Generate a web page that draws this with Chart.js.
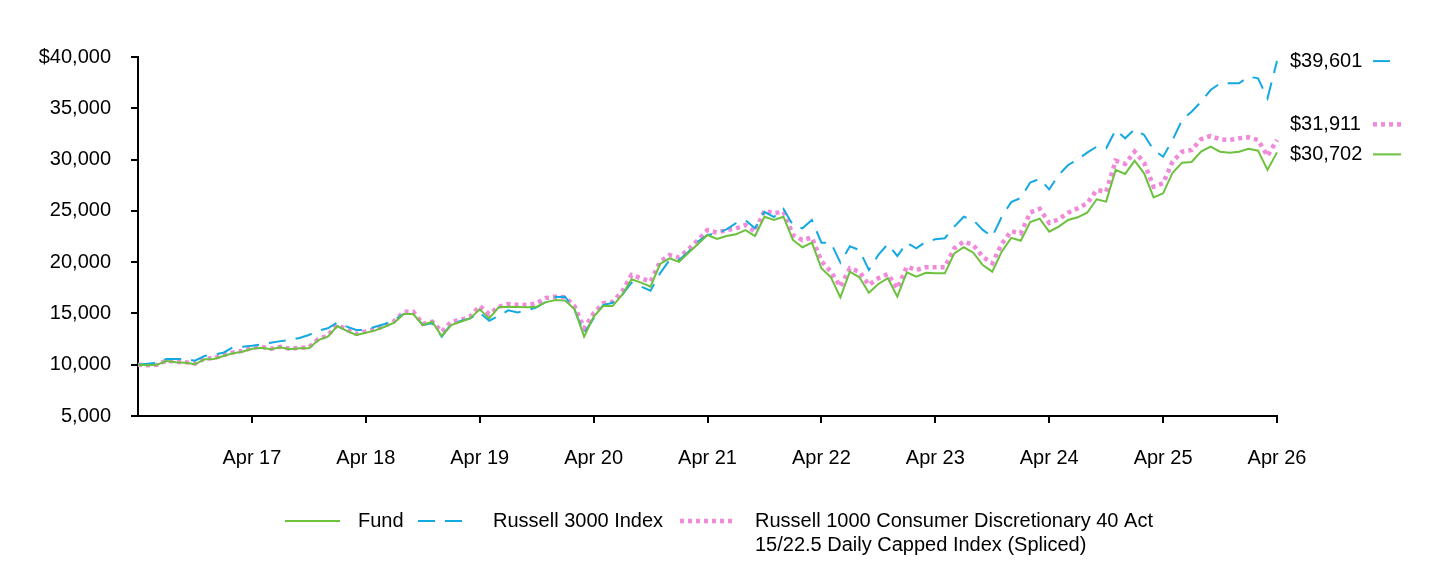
<!DOCTYPE html>
<html>
<head>
<meta charset="utf-8">
<script src="https://cdn.jsdelivr.net/npm/chart.js@4.4.1/dist/chart.umd.min.js"></script>
<style>
  html, body { margin: 0; padding: 0; background: #fff; }
  canvas { display: block; }
</style>
</head>
<body>
<canvas id="growthChart" width="1440" height="564"></canvas>
<script>
// ── Data (monthly, Apr 16 → Apr 26) ─────────────────────────
const MONTHS = ['Apr','May','Jun','Jul','Aug','Sep','Oct','Nov','Dec','Jan','Feb','Mar'];
const START_YEAR = 16;
const N_POINTS = 121;

const fundValues = [
  10000, 9950, 10000, 10360, 10250, 10200, 10040, 10530, 10560, 10850, 11110, 11270,
  11550, 11650, 11500, 11700, 11500, 11600, 11600, 12400, 12730, 13770, 13290, 12900,
  13120, 13350, 13700, 14100, 14940, 14940, 13870, 14190, 12800, 13870, 14190, 14520,
  15400, 14520, 15600, 15650, 15620, 15600, 15650, 16100, 16300, 16250, 15400, 12730,
  14680, 15720, 15720, 16800, 18330, 18000, 17610, 19820, 20370, 20040, 20920, 21770,
  22650, 22260, 22550, 22710, 23130, 22550, 24430, 24110, 24430, 22160, 21450, 21900,
  19400, 18520, 16570, 19070, 18520, 17020, 17870, 18430, 16640, 19010, 18580, 18970,
  18910, 18910, 20860, 21450, 20920, 19720, 19070, 21020, 22370, 22090, 23910, 24240,
  22970, 23460, 24110, 24370, 24820, 26130, 25900, 28990, 28600, 29890, 28660, 26320,
  26710, 28720, 29700, 29760, 30770, 31260, 30770, 30670, 30770, 31060, 30870, 28990,
  30702
];

const russell3000Values = [
  10000, 10100, 10200, 10560, 10560, 10560, 10390, 10850, 11000, 11170, 11700, 11760,
  11850, 11990, 12150, 12300, 12410, 12600, 12900, 13320, 13550, 14100, 13710, 13380,
  13380, 13700, 13970, 14360, 14940, 14940, 13870, 14040, 12730, 13970, 14260, 14520,
  15070, 14290, 14750, 15300, 15100, 15300, 15600, 16150, 16600, 16630, 15330, 13060,
  14520, 15820, 16040, 16800, 18000, 17610, 17220, 18910, 20210, 20200, 21020, 22000,
  22650, 22810, 23200, 23800, 24100, 23300, 24900, 24400, 25200, 23620, 23300, 24110,
  21900, 21900, 19950, 21550, 21180, 19230, 20700, 21770, 20600, 21900, 21350, 22000,
  22230, 22330, 23460, 24430, 24110, 23140, 22480, 24430, 25850, 26260, 27760, 28120,
  27100, 28500, 29470, 30020, 30670, 31260, 31100, 32880, 32070, 32950, 32400, 30930,
  30280, 31910, 33860, 34670, 35640, 36780, 37430, 37430, 37430, 38080, 37920, 35970,
  39601
];

const consDiscValues = [
  10000, 9950, 10000, 10400, 10300, 10250, 10100, 10600, 10650, 10950, 11200, 11350,
  11650, 11750, 11550, 11750, 11550, 11650, 11700, 12500, 12850, 13900, 13400, 13000,
  13250, 13450, 13800, 14250, 15160, 15160, 13970, 14190, 13220, 14190, 14360, 14680,
  15720, 14940, 15650, 15920, 15850, 15820, 15990, 16500, 16630, 16570, 15700, 13550,
  15010, 15990, 16140, 17130, 18750, 18430, 18100, 20040, 20700, 20470, 21250, 22160,
  23130, 22880, 23130, 23290, 23620, 22970, 25020, 24760, 24920, 22650, 22160, 22400,
  20100, 19070, 17610, 19400, 19070, 17770, 18430, 18840, 17440, 19560, 19230, 19500,
  19500, 19500, 21350, 22000, 21670, 20530, 19890, 21770, 23020, 22810, 24840, 25200,
  23820, 24170, 24820, 25250, 25730, 27030, 26870, 29890, 29570, 30770, 29700, 27360,
  27690, 29800, 30770, 30930, 31980, 32300, 31980, 31910, 32070, 32170, 31910, 30350,
  31911
];

const seriesNames = [
  ['Fund'],
  ['Russell 3000 Index'],
  ['Russell 1000 Consumer Discretionary 40 Act', '15/22.5 Daily Capped Index (Spliced)']
];
const endLabels = ['$30,702', '$39,601', '$31,911'];

const yTicks = [5000, 10000, 15000, 20000, 25000, 30000, 35000, 40000];

// Month labels: "Apr 16", "May 16", ...
const labels = [];
for (let i = 0; i < N_POINTS; i++) {
  const yr = START_YEAR + Math.floor((i + 3) / 12);
  labels.push(MONTHS[i % 12] + ' ' + yr);
}

// ── Styles ──────────────────────────────────────────────────
const FONT = "'Liberation Sans', Arial, sans-serif";
const FONT_SIZE = 20;
const GREEN = '#6CC13E';
const BLUE  = '#14A9E0';
const PINK  = '#F08ADA';

const STYLES = [
  { color: GREEN, width: 2,   dash: [] },
  { color: BLUE,  width: 2,   dash: [17, 10] },
  { color: PINK,  width: 4.5, dash: [4, 4] }
];

// ── Plugin: end-of-line value labels + bottom legend ────────
const extrasPlugin = {
  id: 'extras',
  afterDraw(chart) {
    const ctx = chart.ctx;
    const yScale = chart.scales.y;

    // end labels, pushed apart so they don't collide
    const items = chart.data.datasets.map((ds, i) => ({
      i, y: yScale.getPixelForValue(ds.data[ds.data.length - 1])
    }));
    items.sort((a, b) => b.y - a.y);
    items[0].y += 2;
    for (let k = 1; k < items.length; k++) {
      if (items[k - 1].y - items[k].y < 30) items[k].y = items[k - 1].y - 30;
    }

    ctx.save();
    ctx.font = FONT_SIZE + 'px ' + FONT;
    ctx.textBaseline = 'middle';
    ctx.textAlign = 'left';
    items.forEach(it => {
      const st = STYLES[it.i];
      ctx.fillStyle = '#000';
      ctx.fillText(endLabels[it.i], 1290, it.y);
      ctx.strokeStyle = st.color;
      ctx.lineWidth = st.width;
      ctx.setLineDash(st.dash);
      ctx.beginPath();
      ctx.moveTo(1373, it.y);
      ctx.lineTo(it.i === 1 ? 1392 : 1401, it.y);
      ctx.stroke();
    });

    // legend
    const legendY = 521;
    const legend = [
      { x0: 285, x1: 340, tx: 358 },
      { x0: 418, x1: 472, tx: 493 },
      { x0: 680, x1: 736, tx: 755 }
    ];
    legend.forEach((lg, i) => {
      const st = STYLES[i];
      ctx.strokeStyle = st.color;
      ctx.lineWidth = st.width;
      ctx.setLineDash(st.dash);
      ctx.beginPath();
      ctx.moveTo(lg.x0, legendY);
      ctx.lineTo(lg.x1, legendY);
      ctx.stroke();
      ctx.fillStyle = '#000';
      seriesNames[i].forEach((line, j) => ctx.fillText(line, lg.tx, legendY + j * 24));
    });
    ctx.restore();
  }
};

// ── Chart ───────────────────────────────────────────────────
const datasetsRaw = [fundValues, russell3000Values, consDiscValues];

new Chart(document.getElementById('growthChart'), {
  type: 'line',
  data: {
    labels,
    datasets: datasetsRaw.map((vals, i) => ({
      label: seriesNames[i].join(' '),
      data: vals,
      borderColor: STYLES[i].color,
      borderWidth: STYLES[i].width,
      borderDash: STYLES[i].dash,
      pointRadius: 0,
      tension: 0,
      fill: false
    }))
  },
  options: {
    responsive: false,
    animation: false,
    devicePixelRatio: 1,
    layout: { padding: { left: 0, right: 163, top: 57, bottom: 0 } },
    plugins: {
      legend: { display: false },
      tooltip: { enabled: false }
    },
    scales: {
      x: {
        type: 'category',
        offset: false,
        afterFit: s => { s.height = 148; },
        border: { display: true, color: '#000', width: 2 },
        grid: {
          drawOnChartArea: false,
          drawTicks: true,
          tickLength: 7,
          lineWidth: 2,
          color: c => (c.index > 0 && c.index % 12 === 0) ? '#000' : 'rgba(0,0,0,0)'
        },
        ticks: {
          autoSkip: false,
          maxRotation: 0,
          padding: 23,
          color: '#000',
          font: { family: FONT, size: FONT_SIZE },
          callback: (v, i) => (i > 0 && i % 12 === 0) ? labels[i] : ''
        }
      },
      y: {
        min: 5000,
        max: 40000,
        afterFit: s => { s.width = 138; },
        afterBuildTicks: s => { s.ticks = yTicks.map(v => ({ value: v })); },
        border: { display: true, color: '#000', width: 2 },
        grid: {
          drawOnChartArea: false,
          drawTicks: true,
          tickLength: 7,
          lineWidth: 2,
          color: '#000'
        },
        ticks: {
          padding: 20,
          color: '#000',
          font: { family: FONT, size: FONT_SIZE },
          callback: v => (v === 40000 ? '$' : '') + v.toLocaleString('en-US')
        }
      }
    }
  },
  plugins: [extrasPlugin]
});
</script>
</body>
</html>
